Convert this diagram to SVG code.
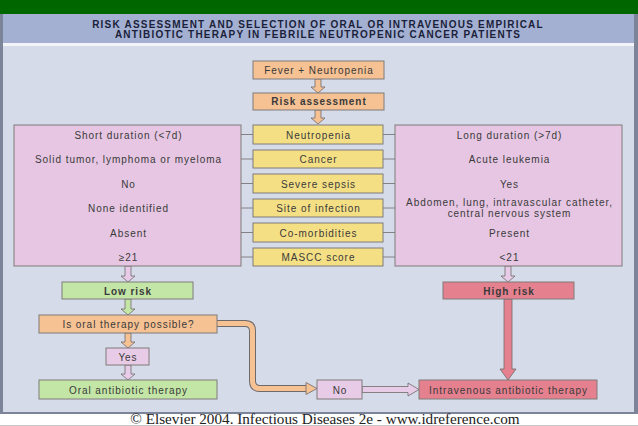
<svg xmlns="http://www.w3.org/2000/svg" width="638" height="426" viewBox="0 0 638 426">
<style>
text{font-family:"Liberation Sans",Arial,sans-serif;font-size:10px;letter-spacing:0.95px;fill:#3a3a3a;text-anchor:middle}
.title{font-weight:bold;font-size:10px;letter-spacing:1.2px;fill:#1c1f3a}
.bold{font-weight:bold}
.box{stroke:#7f7a7a;stroke-width:1}
.or{fill:#f6c193}
.ye{fill:#f5df85}
.pk{fill:#e6c6e2}
.gr{fill:#c3e6a6}
.rd{fill:#e5808f}
.li{fill:#e8cbe6}
.arr{stroke:#6f6a6a;stroke-width:0.8}
.ln{stroke:#6f6a6a;stroke-width:0.8}
.foot{font-family:"Liberation Serif","Times New Roman",serif;font-size:15.2px;letter-spacing:0;fill:#222}
</style>
<rect x="0" y="0" width="638" height="426" fill="#ffffff"/>
<rect x="0" y="0" width="638" height="14" fill="#006600"/>
<rect x="0" y="14" width="638" height="400" fill="#7c8499"/>
<rect x="3" y="14" width="631" height="29" fill="#a3b0d2"/>
<rect x="3" y="43" width="631" height="3" fill="#f2f4f8"/>
<rect x="3" y="46" width="631" height="366" fill="#d6dbe9"/>
<line x1="0" y1="425.5" x2="638" y2="425.5" stroke="#c8c8c8" stroke-width="1"/>
<text class="title" x="318" y="28">RISK ASSESSMENT AND SELECTION OF ORAL OR INTRAVENOUS EMPIRICAL</text>
<text class="title" x="318" y="38">ANTIBIOTIC THERAPY IN FEBRILE NEUTROPENIC CANCER PATIENTS</text>

<g id="connectors">
<path class="arr or" d="M315,79 H321 V87 H325 L318,93 L311,87 H315 Z"/>
<path class="arr or" d="M315,110 H321 V118 H325 L318,124 L311,118 H315 Z"/>
<line class="ln" x1="241" y1="134.5" x2="253" y2="134.5"/>
<line class="ln" x1="241" y1="159" x2="253" y2="159"/>
<line class="ln" x1="241" y1="183.5" x2="253" y2="183.5"/>
<line class="ln" x1="241" y1="208" x2="253" y2="208"/>
<line class="ln" x1="241" y1="232.5" x2="253" y2="232.5"/>
<line class="ln" x1="241" y1="257" x2="253" y2="257"/>
<line class="ln" x1="383" y1="134.5" x2="395" y2="134.5"/>
<line class="ln" x1="383" y1="159" x2="395" y2="159"/>
<line class="ln" x1="383" y1="183.5" x2="395" y2="183.5"/>
<line class="ln" x1="383" y1="208" x2="395" y2="208"/>
<line class="ln" x1="383" y1="232.5" x2="395" y2="232.5"/>
<line class="ln" x1="383" y1="257" x2="395" y2="257"/>
<path class="arr li" d="M125,266 H131 V276 H135 L128,282 L121,276 H125 Z"/>
<path class="arr li" d="M505,266 H511 V276 H515 L508,282 L501,276 H505 Z"/>
<path class="arr gr" d="M125,299 H131 V309 H135 L128,315 L121,309 H125 Z"/>
<path class="arr or" d="M125,333 H131 V342 H135 L128,348 L121,342 H125 Z"/>
<path class="arr li" d="M125,365 H131 V374 H135 L128,380 L121,374 H125 Z"/>
<path d="M217,323.5 H245 Q252.5,323.5 252.5,331 V381 Q252.5,388.5 260,388.5 H308" fill="none" stroke="#6f6a6a" stroke-width="7"/>
<path d="M217,323.5 H245 Q252.5,323.5 252.5,331 V381 Q252.5,388.5 260,388.5 H309" fill="none" stroke="#f6c193" stroke-width="5"/>
<path class="arr or" d="M306,382.5 L317,388.5 L306,394.5 Z"/>
<path class="arr li" d="M362,386.5 H408 V383 L419,389.5 L408,396 V392.5 H362 Z"/>
<path class="arr rd" d="M504,299 H512 V369 H516 L508,380 L500,369 H504 Z"/>
</g>

<g id="fever"><rect class="box or" x="253" y="61" width="131" height="18"/><text x="319" y="73.5">Fever + Neutropenia</text></g>
<g id="risk"><rect class="box or" x="253" y="93" width="131" height="17"/><text class="bold" x="319" y="105">Risk assessment</text></g>

<g id="left-panel"><rect class="box pk" x="14" y="125" width="227" height="141"/>
<text x="128.5" y="138.5">Short duration (&lt;7d)</text>
<text x="128.5" y="163">Solid tumor, lymphoma or myeloma</text>
<text x="128.5" y="187.5">No</text>
<text x="128.5" y="212">None identified</text>
<text x="128.5" y="236.5">Absent</text>
<text x="128.5" y="261">≥21</text></g>

<g id="neutropenia"><rect class="box ye" x="253" y="125" width="130" height="19"/><text x="318.5" y="138.5">Neutropenia</text></g>
<g id="cancer"><rect class="box ye" x="253" y="150" width="130" height="18"/><text x="318.5" y="163">Cancer</text></g>
<g id="sepsis"><rect class="box ye" x="253" y="174" width="130" height="19"/><text x="318.5" y="187.5">Severe sepsis</text></g>
<g id="site"><rect class="box ye" x="253" y="199" width="130" height="18"/><text x="318.5" y="212">Site of infection</text></g>
<g id="comorb"><rect class="box ye" x="253" y="223" width="130" height="19"/><text x="318.5" y="236.5">Co-morbidities</text></g>
<g id="mascc"><rect class="box ye" x="253" y="248" width="130" height="18"/><text x="318.5" y="261">MASCC score</text></g>

<g id="right-panel"><rect class="box pk" x="395" y="125" width="227" height="141"/>
<text x="509.5" y="138.5">Long duration (&gt;7d)</text>
<text x="509.5" y="163">Acute leukemia</text>
<text x="509.5" y="187.5">Yes</text>
<text x="509.5" y="206">Abdomen, lung, intravascular catheter,</text>
<text x="509.5" y="216.5">central nervous system</text>
<text x="509.5" y="236.5">Present</text>
<text x="509.5" y="261">&lt;21</text></g>

<g id="low-risk"><rect class="box gr" x="62" y="282" width="131" height="17"/><text class="bold" x="128" y="294.5">Low risk</text></g>
<g id="high-risk"><rect class="box rd" x="443" y="282" width="131" height="17"/><text class="bold" x="509" y="294.5">High risk</text></g>
<g id="oral-q"><rect class="box or" x="39" y="315" width="178" height="18"/><text x="128.5" y="327.5">Is oral therapy possible?</text></g>
<g id="yes"><rect class="box li" x="106" y="348" width="43" height="17"/><text x="128" y="360.5">Yes</text></g>
<g id="oral"><rect class="box gr" x="39" y="380" width="178" height="19"/><text x="128.5" y="393.5">Oral antibiotic therapy</text></g>
<g id="no"><rect class="box li" x="317" y="380" width="45" height="19"/><text x="340" y="393.5">No</text></g>
<g id="iv"><rect class="box rd" x="419" y="380" width="178" height="19"/><text x="508.5" y="393.5">Intravenous antibiotic therapy</text></g>

<text class="foot" x="325" y="423.5">© Elsevier 2004. Infectious Diseases 2e - www.idreference.com</text>
</svg>
